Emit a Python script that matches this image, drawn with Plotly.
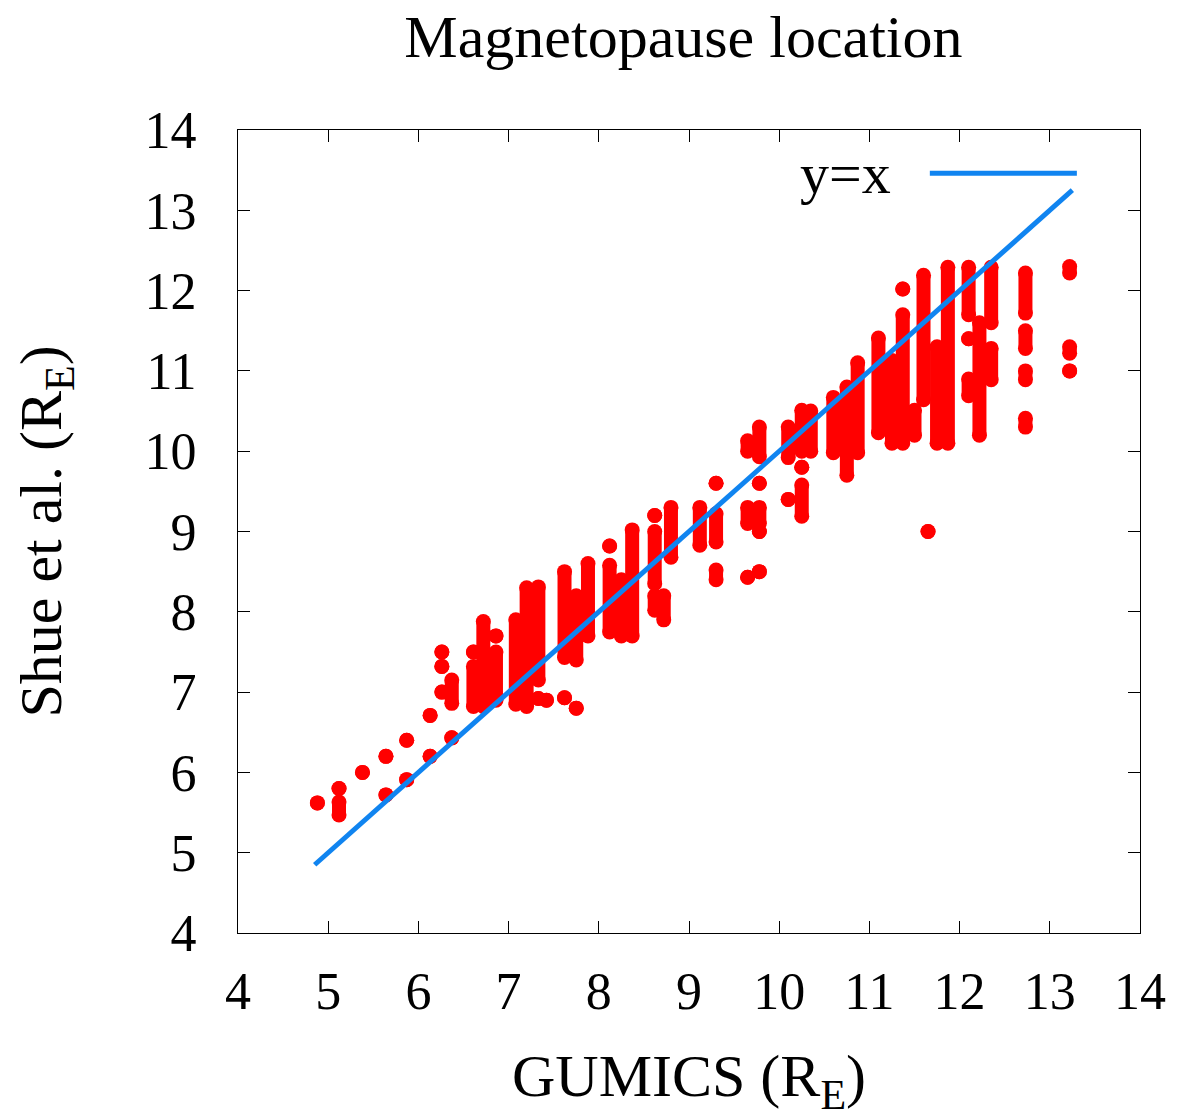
import plotly.graph_objects as go

# Columns of GUMICS vs Shue et al. points: (x, lowest y, highest y) - single dots have lo == hi
col_x = [4.88, 5.12, 5.12, 5.38, 5.64, 5.64, 5.87, 5.87, 6.13, 6.13,
         6.26, 6.26, 6.26, 6.37, 6.37, 6.61, 6.61, 6.72, 6.86, 6.86,
         7.08, 7.20, 7.33, 7.33, 7.42, 7.62, 7.62, 7.75, 7.75, 7.88,
         8.12, 8.12, 8.25, 8.37, 8.62, 8.62, 8.62, 8.72, 8.80, 9.12,
         9.30, 9.30, 9.30, 9.65, 9.65, 9.65, 9.78, 9.78, 9.78, 9.78,
         9.78, 10.10, 10.10, 10.25, 10.25, 10.25, 10.35, 10.60, 10.75, 10.87,
         11.10, 11.25, 11.37, 11.37, 11.50, 11.60, 11.65, 11.75, 11.87, 12.10,
         12.10, 12.10, 12.22, 12.35, 12.35, 12.73, 12.73, 12.73, 12.73, 13.22,
         13.22, 13.22]
col_lo = [5.62, 5.47, 5.80, 6.00, 5.72, 6.20, 5.91, 6.40, 6.20, 6.71,
          7.00, 7.32, 7.50, 6.43, 6.86, 6.82, 7.50, 6.82, 6.90, 7.70,
          6.85, 6.82, 7.15, 6.92, 6.90, 7.43, 6.93, 7.40, 6.80, 7.70,
          7.75, 8.82, 7.70, 7.70, 8.35, 9.20, 8.02, 7.90, 8.68, 8.83,
          8.87, 9.60, 8.40, 9.10, 8.43, 10.00, 9.10, 9.60, 9.00, 8.50,
          9.93, 9.92, 9.40, 10.00, 9.80, 9.19, 10.00, 9.98, 9.70, 9.98,
          10.23, 10.10, 10.10, 12.02, 10.20, 10.64, 9.00, 10.10, 10.10, 11.70,
          11.40, 10.69, 10.20, 11.60, 10.89, 11.72, 11.28, 10.89, 10.30, 12.22,
          11.22, 11.00]
col_hi = [5.62, 5.63, 5.80, 6.00, 5.72, 6.20, 5.91, 6.40, 6.20, 6.71,
          7.00, 7.32, 7.50, 6.43, 7.15, 7.32, 7.50, 7.88, 7.50, 7.70,
          7.90, 8.30, 8.31, 6.92, 6.90, 8.50, 6.93, 8.20, 6.80, 8.60,
          8.58, 8.82, 8.40, 9.02, 9.00, 9.20, 8.20, 8.20, 9.30, 9.30,
          9.22, 9.60, 8.52, 9.30, 8.43, 10.13, 9.30, 9.60, 9.00, 8.50,
          10.30, 10.30, 9.40, 10.51, 9.80, 9.58, 10.50, 10.67, 10.80, 11.10,
          11.41, 11.13, 11.70, 12.02, 10.51, 12.19, 9.00, 11.30, 12.29, 12.29,
          11.40, 10.90, 11.60, 12.29, 11.28, 12.22, 11.50, 11.00, 10.41, 12.30,
          11.30, 11.00]

# y = x reference line
line_x = [4.85, 13.25]
line_y = [4.85, 13.25]

tick_vals = list(range(4, 15))

# build segments separated by gaps
px, py = [], []
for x, lo, hi in zip(col_x, col_lo, col_hi):
    px += [x, x, None]
    py += [lo, hi, None]

fig = go.Figure()
fig.add_trace(go.Scatter(
    x=px, y=py, mode="lines+markers",
    line=dict(color="#ff0000", width=14),
    marker=dict(color="#ff0000", size=15),
    showlegend=False, hoverinfo="skip",
))
fig.add_trace(go.Scatter(
    x=line_x, y=line_y, mode="lines",
    line=dict(color="rgb(16,132,240)", width=5),
    showlegend=False,
))

serif = "Liberation Serif"

# gnuplot-style key: text on the left, line sample on the right
fig.add_annotation(
    text="y=x", xref="paper", yref="paper", x=0.726, y=0.946,
    xanchor="right", yanchor="middle", showarrow=False,
    font=dict(family=serif, size=58, color="black"),
)
fig.add_shape(
    type="line", xref="paper", yref="paper",
    x0=0.767, x1=0.93, y0=0.946, y1=0.946,
    line=dict(color="rgb(16,132,240)", width=5),
)

axis_common = dict(
    range=[4, 14], tickvals=tick_vals, ticks="inside", ticklen=12,
    mirror="ticks", showline=True, linecolor="black", linewidth=1,
    showgrid=False, zeroline=False, tickcolor="black",
    tickfont=dict(family=serif, size=52, color="black"),
)

fig.update_xaxes(**axis_common, ticklabelstandoff=13,
                 title=dict(text="GUMICS (R<sub>E</sub>)", standoff=34,
                            font=dict(family=serif, size=60, color="black")))
fig.update_yaxes(**axis_common, ticklabelstandoff=30,
                 title=dict(text="Shue et al. (R<sub>E</sub>)", standoff=64,
                            font=dict(family=serif, size=60, color="black")))

fig.update_layout(
    width=1185, height=1117,
    margin=dict(l=230, r=53, t=122, b=192),
    plot_bgcolor="white", paper_bgcolor="white",
    title=dict(text="Magnetopause location", x=0.570, xanchor="center",
               y=0.975, yanchor="middle",
               font=dict(family=serif, size=60, color="black")),
)

fig.write_html("out.html")
